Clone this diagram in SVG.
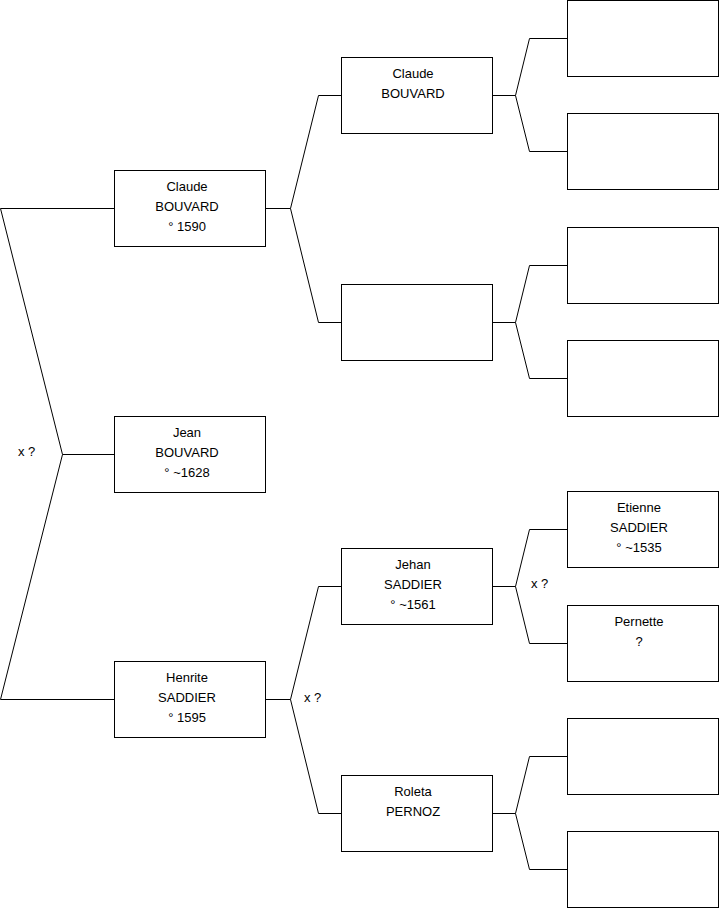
<svg xmlns="http://www.w3.org/2000/svg" width="719" height="908" viewBox="0 0 719 908">
<style>
.box{fill:#fff;stroke:#000;stroke-width:1}
.ln{fill:none;stroke:#000;stroke-width:1}
text{font-family:"Liberation Sans",Arial,sans-serif;font-size:13px;fill:#000}
.c{text-anchor:middle}
</style>
<rect width="719" height="908" fill="#fff"/>
<g id="connectors">
<polyline class="ln" points="114.5,208.5 0.5,208.5 62.5,454.5 0.5,699.5 114.5,699.5"/>
<line class="ln" x1="62.5" y1="454.5" x2="114.5" y2="454.5"/>
<polyline class="ln" points="341.5,95.5 318.5,95.5 290.5,208.5 318.5,322.5 341.5,322.5"/>
<line class="ln" x1="265.5" y1="208.5" x2="290.5" y2="208.5"/>
<polyline class="ln" points="341.5,586.5 318.5,586.5 290.5,699.5 318.5,813.5 341.5,813.5"/>
<line class="ln" x1="265.5" y1="699.5" x2="290.5" y2="699.5"/>
<polyline class="ln" points="567.5,38.5 529.5,38.5 515.5,95.5 529.5,151.5 567.5,151.5"/>
<line class="ln" x1="492.5" y1="95.5" x2="515.5" y2="95.5"/>
<polyline class="ln" points="567.5,265.5 529.5,265.5 515.5,322.5 529.5,378.5 567.5,378.5"/>
<line class="ln" x1="492.5" y1="322.5" x2="515.5" y2="322.5"/>
<polyline class="ln" points="567.5,529.5 529.5,529.5 515.5,586.5 529.5,643.5 567.5,643.5"/>
<line class="ln" x1="492.5" y1="586.5" x2="515.5" y2="586.5"/>
<polyline class="ln" points="567.5,756.5 529.5,756.5 515.5,813.5 529.5,869.5 567.5,869.5"/>
<line class="ln" x1="492.5" y1="813.5" x2="515.5" y2="813.5"/>
<text x="18" y="456">x ?</text>
<text x="304" y="702">x ?</text>
<text x="531" y="588">x ?</text>
</g>
<g id="n-claude1">
<rect class="box" x="114.5" y="170.5" width="151" height="76"/>
<text class="c" x="187" y="191">Claude</text><text class="c" x="187" y="211">BOUVARD</text><text class="c" x="187" y="231">° 1590</text>
</g>
<g id="n-jean">
<rect class="box" x="114.5" y="416.5" width="151" height="76"/>
<text class="c" x="187" y="437">Jean</text><text class="c" x="187" y="457">BOUVARD</text><text class="c" x="187" y="477">° ~1628</text>
</g>
<g id="n-henrite">
<rect class="box" x="114.5" y="661.5" width="151" height="76"/>
<text class="c" x="187" y="682">Henrite</text><text class="c" x="187" y="702">SADDIER</text><text class="c" x="187" y="722">° 1595</text>
</g>
<g id="n-claude2">
<rect class="box" x="341.5" y="57.5" width="151" height="76"/>
<text class="c" x="413" y="78">Claude</text><text class="c" x="413" y="98">BOUVARD</text>
</g>
<g id="n-blank2">
<rect class="box" x="341.5" y="284.5" width="151" height="76"/>
</g>
<g id="n-jehan">
<rect class="box" x="341.5" y="548.5" width="151" height="76"/>
<text class="c" x="413" y="569">Jehan</text><text class="c" x="413" y="589">SADDIER</text><text class="c" x="413" y="609">° ~1561</text>
</g>
<g id="n-roleta">
<rect class="box" x="341.5" y="775.5" width="151" height="76"/>
<text class="c" x="413" y="796">Roleta</text><text class="c" x="413" y="816">PERNOZ</text>
</g>
<g id="n-g3a"><rect class="box" x="567.5" y="0.5" width="151" height="76"/></g>
<g id="n-g3b"><rect class="box" x="567.5" y="113.5" width="151" height="76"/></g>
<g id="n-g3c"><rect class="box" x="567.5" y="227.5" width="151" height="76"/></g>
<g id="n-g3d"><rect class="box" x="567.5" y="340.5" width="151" height="76"/></g>
<g id="n-etienne">
<rect class="box" x="567.5" y="491.5" width="151" height="76"/>
<text class="c" x="639" y="512">Etienne</text><text class="c" x="639" y="532">SADDIER</text><text class="c" x="639" y="552">° ~1535</text>
</g>
<g id="n-pernette">
<rect class="box" x="567.5" y="605.5" width="151" height="76"/>
<text class="c" x="639" y="626">Pernette</text><text class="c" x="639" y="646">?</text>
</g>
<g id="n-g3g"><rect class="box" x="567.5" y="718.5" width="151" height="76"/></g>
<g id="n-g3h"><rect class="box" x="567.5" y="831.5" width="151" height="76"/></g>
</svg>
